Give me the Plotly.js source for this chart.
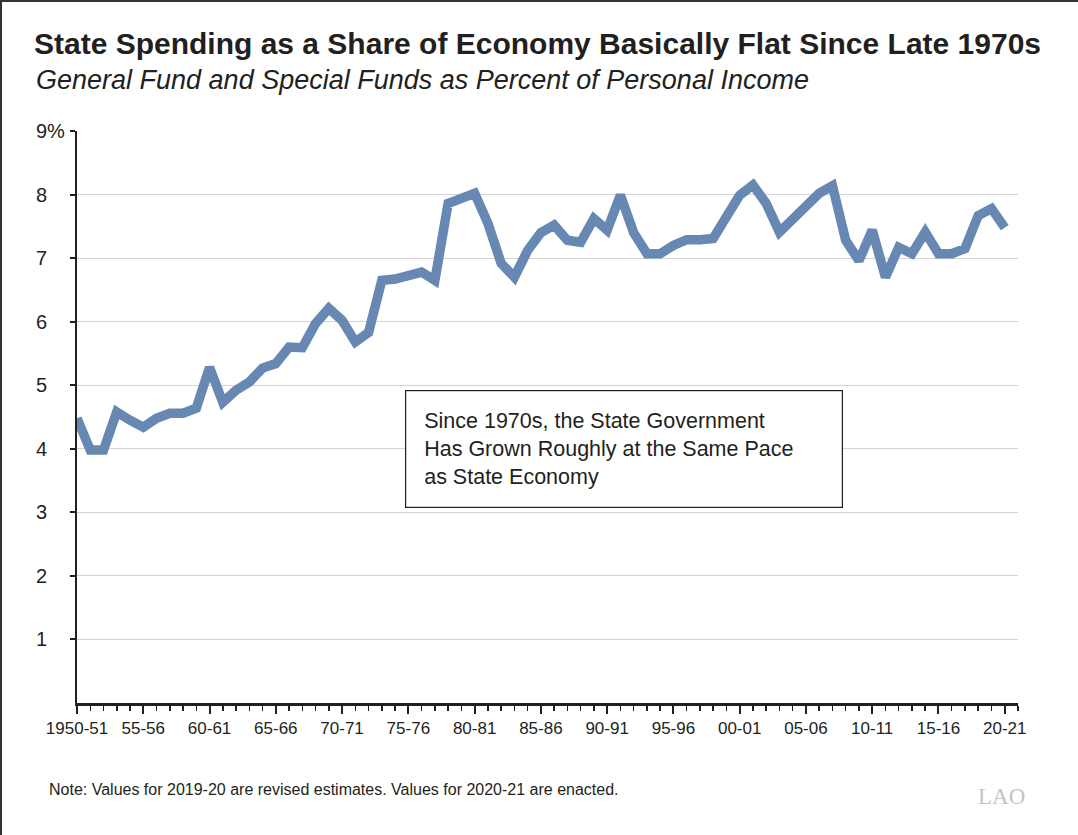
<!DOCTYPE html>
<html>
<head>
<meta charset="utf-8">
<script src="https://cdn.plot.ly/plotly-3.0.1.min.js"></script>
<style>
  html, body { margin: 0; padding: 0; background: #fff; }
  #frame { position: absolute; left: 0; top: 0; width: 1078px; height: 835px; box-sizing: border-box; border-left: 2px solid #333; border-top: 2px solid #333; }
  #chart { position: absolute; left: 0; top: 0; width: 1078px; height: 835px; }
</style>
</head>
<body>
<div id="chart"></div>
<div id="frame"></div>
<script>
// Fiscal years 1950-51 .. 2020-21
const categories = [
  "1950-51","51-52","52-53","53-54","54-55","55-56","56-57","57-58","58-59","59-60",
  "60-61","61-62","62-63","63-64","64-65","65-66","66-67","67-68","68-69","69-70",
  "70-71","71-72","72-73","73-74","74-75","75-76","76-77","77-78","78-79","79-80",
  "80-81","81-82","82-83","83-84","84-85","85-86","86-87","87-88","88-89","89-90",
  "90-91","91-92","92-93","93-94","94-95","95-96","96-97","97-98","98-99","99-00",
  "00-01","01-02","02-03","03-04","04-05","05-06","06-07","07-08","08-09","09-10",
  "10-11","11-12","12-13","13-14","14-15","15-16","16-17","17-18","18-19","19-20",
  "20-21"
];
// Percent of personal income
const spendingShare = [
  4.48, 3.98, 3.98, 4.58, 4.45, 4.34, 4.48, 4.56, 4.56, 4.64,
  5.28, 4.73, 4.92, 5.05, 5.27, 5.34, 5.60, 5.59, 5.97, 6.21,
  6.02, 5.68, 5.83, 6.65, 6.67, 6.71, 6.78, 6.65, 7.86, 7.94,
  8.02, 7.55, 6.92, 6.70, 7.12, 7.40, 7.52, 7.28, 7.25, 7.62,
  7.44, 7.99, 7.40, 7.07, 7.07, 7.20, 7.29, 7.29, 7.31, 7.65,
  7.99, 8.15, 7.86, 7.41, 7.62, 7.83, 8.02, 8.14, 7.28, 6.96,
  7.44, 6.70, 7.17, 7.07, 7.41, 7.07, 7.07, 7.15, 7.67, 7.78,
  7.48
];
const xTickLabels = ["1950-51","55-56","60-61","65-66","70-71","75-76","80-81","85-86","90-91","95-96","00-01","05-06","10-11","15-16","20-21"];
const yTickValues = [1, 2, 3, 4, 5, 6, 7, 8, 9];
const yTickLabels = ["1", "2", "3", "4", "5", "6", "7", "8", "9%"];

const startYear = 1950;
const xVals = categories.map((c, i) => startYear + i);
const xTickVals = xTickLabels.map(l => xVals[categories.indexOf(l)]);

const FONT = '"Liberation Sans", Arial, Helvetica, sans-serif';
const INK = '#231f20';

const trace = {
  x: xVals,
  y: spendingShare,
  text: categories,
  type: 'scatter',
  mode: 'lines',
  line: { color: '#6688b2', width: 9.5 },
  hovertemplate: '%{text}: %{y:.2f}%<extra></extra>'
};

const annotations = yTickValues.map((v, i) => ({
  xref: 'paper', yref: 'y', x: -0.0457, y: v,
  xanchor: 'left', yanchor: 'middle', showarrow: false,
  text: yTickLabels[i], font: { family: FONT, size: 20, color: INK }
}));

annotations.push({
  xref: 'paper', yref: 'paper', x: -0.0457, y: 1.089,
  xanchor: 'left', yanchor: 'middle', showarrow: false,
  text: '<i>General Fund and Special Funds as Percent of Personal Income</i>',
  font: { family: FONT, size: 27, color: INK }
});
annotations.push({
  xref: 'paper', yref: 'paper', x: -0.0319, y: -0.152,
  xanchor: 'left', yanchor: 'middle', showarrow: false,
  text: 'Note: Values for 2019-20 are revised estimates. Values for 2020-21 are enacted.',
  font: { family: FONT, size: 16, color: INK }
});
annotations.push({
  xref: 'paper', yref: 'paper', x: 0.9825, y: -0.163,
  xanchor: 'center', yanchor: 'middle', showarrow: false,
  text: 'LAO',
  font: { family: '"Liberation Serif", "DejaVu Serif", serif', size: 23, color: '#c4c4c4' }
});
annotations.push({
  xref: 'x', yref: 'y', x: 1991.25, y: 4.0,
  xanchor: 'center', yanchor: 'middle', showarrow: false,
  width: 400, height: 80, borderpad: 18, align: 'left', valign: 'middle',
  bordercolor: INK, borderwidth: 1.2, bgcolor: '#ffffff',
  text: 'Since 1970s, the State Government<br>Has Grown Roughly at the Same Pace<br>as State Economy',
  font: { family: FONT, size: 21.5, color: INK }
});

const layout = {
  width: 1078, height: 835,
  margin: { l: 77, r: 60, t: 131, b: 132 },
  paper_bgcolor: '#ffffff', plot_bgcolor: '#ffffff',
  showlegend: false,
  font: { family: FONT, color: INK },
  title: {
    text: '<b>State Spending as a Share of Economy Basically Flat Since Late 1970s</b>',
    font: { family: FONT, size: 30, color: INK },
    xref: 'container', yref: 'container', x: 0.0315, y: 0.9485,
    xanchor: 'left', yanchor: 'middle'
  },
  xaxis: {
    range: [1950, 2021],
    tickmode: 'array', tickvals: xTickVals, ticktext: xTickLabels,
    ticks: 'outside', ticklen: 8, tickwidth: 2, tickcolor: INK,
    minor: { dtick: 1, tick0: 1950, ticks: 'outside', ticklen: 5, tickwidth: 1.5, tickcolor: INK, showgrid: false },
    showline: true, linecolor: INK, linewidth: 2.5,
    showgrid: false, zeroline: false,
    tickfont: { family: FONT, size: 17, color: INK },
    fixedrange: true
  },
  yaxis: {
    range: [0, 9],
    tickmode: 'array', tickvals: yTickValues, showticklabels: false,
    ticks: 'outside', ticklen: 5, tickwidth: 2, tickcolor: INK,
    showline: true, linecolor: INK, linewidth: 2.5,
    showgrid: true, gridcolor: '#d4d4d4', gridwidth: 1.2,
    zeroline: false, fixedrange: true
  },
  annotations: annotations
};

Plotly.newPlot('chart', [trace], layout, { displayModeBar: false, staticPlot: true });
</script>
</body>
</html>
